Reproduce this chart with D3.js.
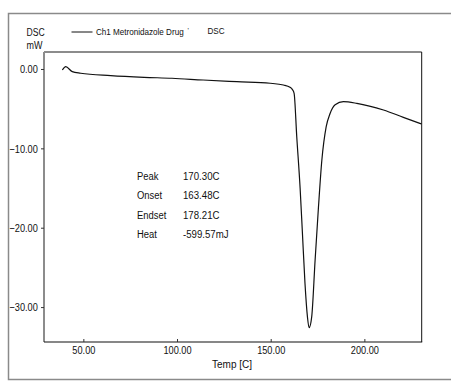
<!DOCTYPE html>
<html>
<head>
<meta charset="utf-8">
<script src="https://cdn.jsdelivr.net/npm/d3@7"></script>
<style>
  html, body { margin: 0; padding: 0; background: #fff; }
  text { font-family: "Liberation Sans", Arial, sans-serif; fill: #111; }
</style>
</head>
<body>
<script>
// DSC trace (temperature in C, heat flow in mW)
const temps = [38.8, 40.6, 44.1, 48.6, 64.6, 82.4, 97.3, 113.9, 131.9, 149.7, 156.8, 160.3, 161.6, 162.5,
  163.9, 165.7, 166.9, 168.3, 169.6, 170.5, 171.9, 173.7, 175.5, 177.3, 179.6, 181.7, 184.4, 188.8,
  196.0, 210.2, 220.8, 230.5];
const dsc = [-0.13, 0.29, -0.34, -0.54, -0.84, -1.05, -1.17, -1.39, -1.60, -1.80, -2.02, -2.31, -2.6, -3.06,
  -8.5, -15.0, -20.5, -27.0, -31.2, -32.6, -31.2, -24.1, -17.4, -11.5, -7.3, -5.6, -4.5, -4.12,
  -4.33, -5.17, -6.09, -6.93];

const xTicks = [50, 100, 150, 200];
const yTicks = [0, -10, -20, -30];

const resultLabels = ["Peak", "Onset", "Endset", "Heat"];
const resultValues = ["170.30C", "163.48C", "178.21C", "-599.57mJ"];

const width = 451;
const height = 381;
const margin = { top: 52, right: 29.3, bottom: 39, left: 44 };

const xScale = d3.scaleLinear().domain([29, 230.6]).range([margin.left, width - margin.right]);
const yScale = d3.scaleLinear().domain([-34.4, 2.14]).range([height - margin.bottom, margin.top]);

const svg = d3.select("body")
  .append("svg")
  .attr("width", width)
  .attr("height", height)
  .attr("viewBox", [0, 0, width, height]);

// condensed text, the instrument software uses a narrow face
function label(x, y, str, size, sx, anchor) {
  return svg.append("text")
    .attr("transform", `translate(${x},${y}) scale(${sx},1)`)
    .attr("text-anchor", anchor || "start")
    .attr("font-size", size)
    .text(str);
}

// outer frame
svg.append("rect")
  .attr("x", 8.5).attr("y", 13.5)
  .attr("width", 460).attr("height", 366)
  .attr("fill", "none")
  .attr("stroke", "#8a8a8a")
  .attr("stroke-width", 1.5);

const x0 = margin.left, x1 = width - margin.right;
const y0 = margin.top, y1 = height - margin.bottom;

// plot frame: top/left grey, right/bottom black
svg.append("line").attr("x1", x0).attr("x2", x1).attr("y1", y0).attr("y2", y0)
  .attr("stroke", "#8c8c8c").attr("stroke-width", 2);
svg.append("line").attr("x1", x0).attr("x2", x0).attr("y1", y0).attr("y2", y1)
  .attr("stroke", "#8c8c8c").attr("stroke-width", 2);
svg.append("line").attr("x1", x1).attr("x2", x1).attr("y1", y0).attr("y2", y1)
  .attr("stroke", "#111").attr("stroke-width", 1);
svg.append("line").attr("x1", x0).attr("x2", x1 + 0.5).attr("y1", y1).attr("y2", y1)
  .attr("stroke", "#111").attr("stroke-width", 1.2);

// y axis
const yAxis = d3.axisLeft(yScale).tickValues(yTicks).tickFormat(d3.format(".2f")).tickSize(3).tickPadding(1);
svg.append("g")
  .attr("transform", `translate(${x0},0)`)
  .call(yAxis)
  .call((g) => g.select(".domain").remove())
  .call((g) => g.selectAll(".tick line").attr("stroke", "#333"))
  .call((g) => g.selectAll(".tick text")
    .attr("font-size", 11.5).attr("font-family", null)
    .attr("transform", "translate(-3,0) scale(0.8,1)"));

// x axis
const xAxis = d3.axisBottom(xScale).tickValues(xTicks).tickFormat(d3.format(".2f")).tickSize(-3).tickPadding(4);
svg.append("g")
  .attr("transform", `translate(0,${y1})`)
  .call(xAxis)
  .call((g) => g.select(".domain").remove())
  .call((g) => g.selectAll(".tick line").attr("stroke", "#333"))
  .call((g) => g.selectAll(".tick text")
    .attr("font-size", 11.5).attr("font-family", null)
    .attr("transform", "scale(0.8,1)"));

label(232, 368, "Temp  [C]", 11.5, 0.87, "middle");

// header / legend
label(26.5, 36, "DSC", 11.5, 0.75);
label(26.5, 49, "mW", 11.5, 0.78);
svg.append("line")
  .attr("x1", 71.5).attr("x2", 92.5).attr("y1", 32).attr("y2", 32)
  .attr("stroke", "#111").attr("stroke-width", 1);
label(96, 35.3, "Ch1 Metronidazole Drug", 9, 0.9);
label(187.5, 33, "'", 7, 1).attr("fill", "#888");
label(207.5, 33.5, "DSC", 9, 0.9);

// peak analysis results
resultLabels.forEach((lab, i) => {
  label(137, 180 + i * 19.3, lab, 11.5, 0.82);
  label(183, 180 + i * 19.3, resultValues[i], 11.5, 0.84);
});

// the trace
const data = temps.map((t, i) => ({ t: t, v: dsc[i] }));
const traceLine = d3.line()
  .curve(d3.curveMonotoneX)
  .x((d) => xScale(d.t))
  .y((d) => yScale(d.v));

svg.append("path")
  .attr("d", traceLine(data))
  .attr("fill", "none")
  .attr("stroke", "#111")
  .attr("stroke-width", 1.2);
</script>
</body>
</html>
